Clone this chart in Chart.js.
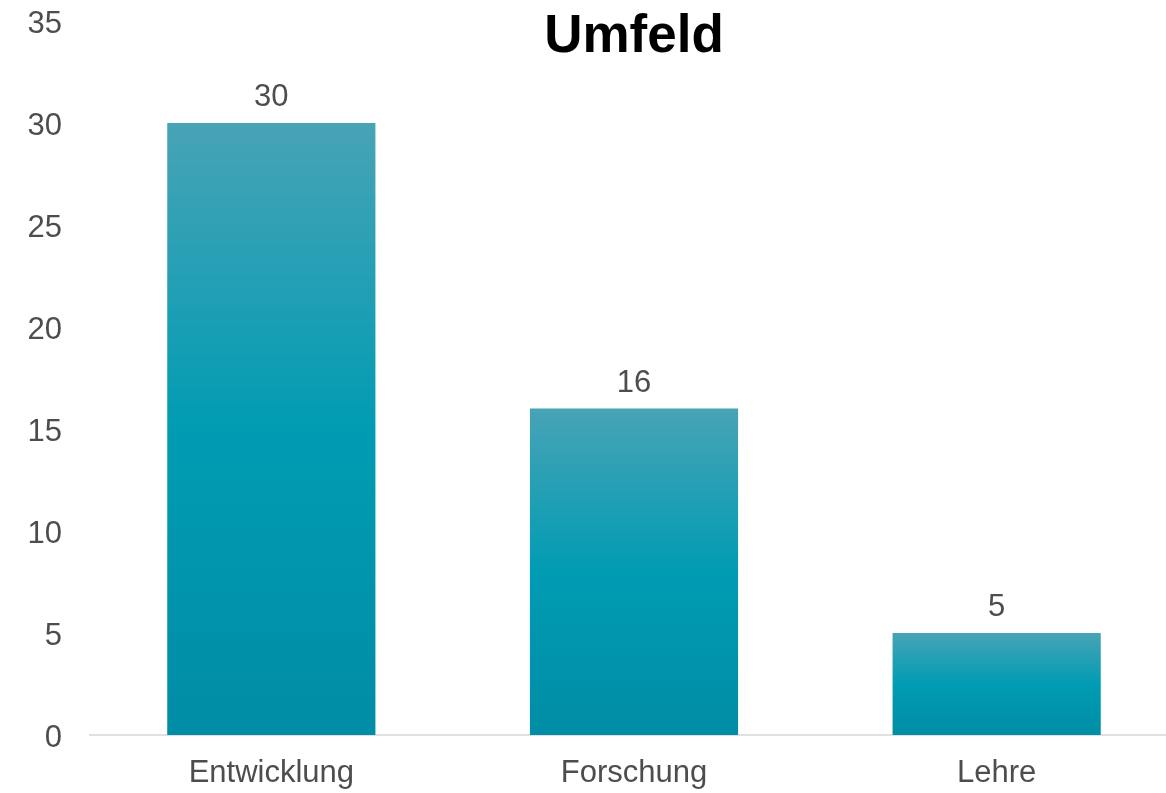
<!DOCTYPE html>
<html>
<head>
<meta charset="utf-8">
<script src="https://cdn.jsdelivr.net/npm/chart.js@4/dist/chart.umd.min.js"></script>
<style>
    html, body { margin: 0; padding: 0; background: #fff; overflow: hidden; }
    #wrap { width: 1178px; height: 793px; position: relative; }
</style>
</head>
<body>
<div id="wrap"><canvas id="chart"></canvas></div>
<script>
// Umfeld - Anzahl je Bereich
const categories = ["Entwicklung", "Forschung", "Lehre"];
const counts = [30, 16, 5];
const yTicks = [0, 5, 10, 15, 20, 25, 30, 35];
const chartTitle = "Umfeld";

const textColor = "#4d4d4d";
const fontFamily = "'Liberation Sans', Arial, sans-serif";

// vertical gradient per bar, lighter on top, brightest around the middle
function barGradient(context) {
    const chart = context.chart;
    const yScale = chart.scales.y;
    if (!yScale || context.raw === undefined) return "#009cb3";
    const top = yScale.getPixelForValue(context.raw);
    const bottom = yScale.getPixelForValue(0);
    if (!Number.isFinite(top) || !Number.isFinite(bottom) || top === bottom) return "#009cb3";
    const g = chart.ctx.createLinearGradient(0, top, 0, bottom);
    g.addColorStop(0, "rgb(72,163,182)");
    g.addColorStop(0.5, "rgb(0,156,179)");
    g.addColorStop(1, "rgb(0,141,165)");
    return g;
}

const valueLabels = {
    id: "valueLabels",
    afterDatasetsDraw(chart) {
        const ctx = chart.ctx;
        const meta = chart.getDatasetMeta(0);
        ctx.save();
        ctx.font = "31px " + fontFamily;
        ctx.fillStyle = textColor;
        ctx.textAlign = "center";
        ctx.textBaseline = "alphabetic";
        meta.data.forEach((bar, i) => {
            ctx.fillText(String(counts[i]), bar.x, bar.y - 17);
        });
        ctx.restore();
    }
};

const titleText = {
    id: "titleText",
    afterDraw(chart) {
        const ctx = chart.ctx;
        const area = chart.chartArea;
        ctx.save();
        ctx.font = "bold 53px " + fontFamily;
        ctx.fillStyle = "#000";
        ctx.textAlign = "center";
        ctx.textBaseline = "alphabetic";
        ctx.fillText(chartTitle, (area.left + area.right) / 2, 52);
        ctx.restore();
    }
};

const chart = new Chart(document.getElementById("chart"), {
    type: "bar",
    data: {
        labels: categories,
        datasets: [{
            data: counts,
            backgroundColor: barGradient,
            borderWidth: 0,
            barPercentage: 0.574,
            categoryPercentage: 1
        }]
    },
    plugins: [valueLabels, titleText],
    options: {
        responsive: true,
        maintainAspectRatio: false,
        animation: false,
        layout: { padding: { top: 21, bottom: 3, left: 0, right: 0 } },
        plugins: {
            legend: { display: false },
            title: { display: false },
            tooltip: { enabled: false }
        },
        scales: {
            x: {
                afterFit(scale) {
                    scale.height = 55;
                    scale.paddingLeft = 0;
                    scale.paddingRight = 0;
                },
                grid: { display: false, drawTicks: false },
                border: { display: true, color: "#e0e0e0", width: 2 },
                ticks: {
                    color: textColor,
                    padding: 20,
                    font: { family: fontFamily, size: 31 }
                }
            },
            y: {
                min: 0,
                max: 35,
                afterBuildTicks(scale) {
                    scale.ticks = yTicks.map(v => ({ value: v }));
                },
                afterFit(scale) {
                    scale.width = 90;
                    // top label may overhang the plot area
                    scale.paddingTop = 0;
                    scale.paddingBottom = 0;
                },
                grid: { display: false, drawTicks: false },
                border: { display: false },
                ticks: {
                    color: textColor,
                    padding: 28,
                    labelOffset: 3,
                    font: { family: fontFamily, size: 31 }
                }
            }
        }
    }
});
// gradients depend on the final scale layout
chart.update();
</script>
</body>
</html>
